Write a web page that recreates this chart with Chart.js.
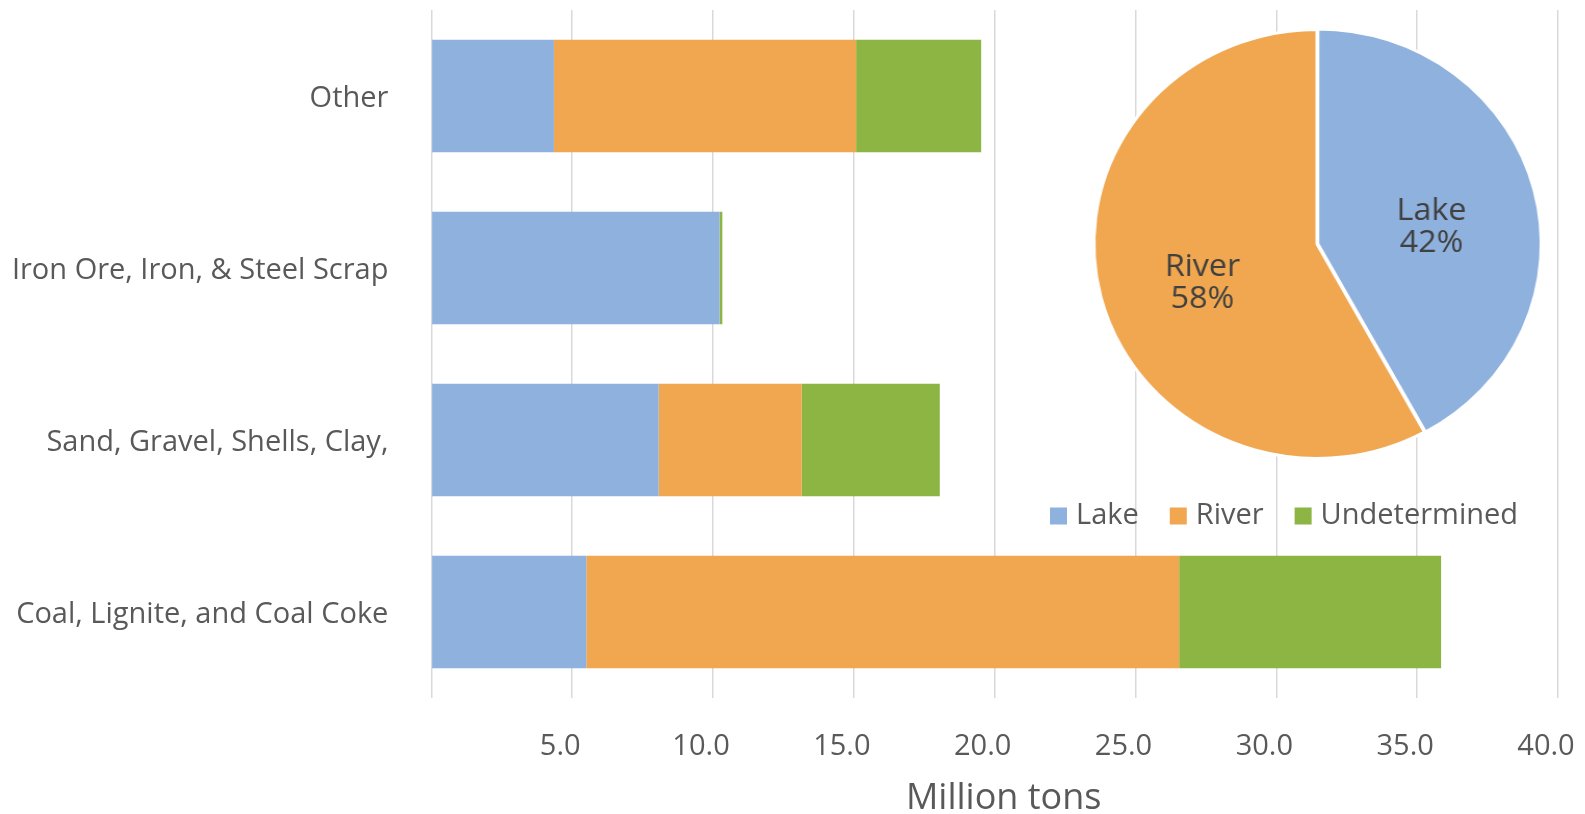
<!DOCTYPE html>
<html>
<head>
<meta charset="utf-8">
<script src="https://cdn.jsdelivr.net/npm/chart.js@4.4.1/dist/chart.umd.min.js"></script>
<style>
  html, body { margin: 0; padding: 0; background: #fff; overflow: hidden; }
  #wrap { position: relative; width: 1585px; height: 814px; }
  #bars { position: absolute; left: 0; top: 0; }
  #pieBox { position: absolute; left: 1076.5px; top: 4px; width: 480px; height: 480px;
            transform: scaleX(1.04); transform-origin: 240px 240px; }
</style>
</head>
<body>
<div id="wrap">
  <canvas id="bars" width="1585" height="814"></canvas>
  <div id="pieBox"><canvas id="pie" width="480" height="480"></canvas></div>
</div>
<script>
// Commodity groups, top to bottom
const categories = [
  'Other',
  'Iron Ore, Iron, & Steel Scrap',
  'Sand, Gravel, Shells, Clay,',
  'Coal, Lignite, and Coal Coke'
];

// Tonnage by waterway type (million tons)
const lakeTons         = [4.35, 10.23, 8.07, 5.50];
const riverTons        = [10.73, 0.00, 5.08, 21.05];
const undeterminedTons = [4.44, 0.10, 4.90, 9.30];

const seriesNames  = ['Lake', 'River', 'Undetermined'];
const seriesColors = ['#8EB1DD', '#F0A750', '#8DB543'];

// Value axis tick labels (0 is left blank)
const tickLabels = ['', '5.0', '10.0', '15.0', '20.0', '25.0', '30.0', '35.0', '40.0'];
const valueAxisTitle = 'Million tons';

// Share of total tonnage, Lake vs River (%)
const pieLabels = ['Lake', 'River'];
const pieShares = [42, 58];

const FONT = '"Open Sans", "Segoe UI", "Noto Sans", sans-serif';
const TEXT = '#595959';

Chart.defaults.font.family = FONT;
Chart.defaults.color = TEXT;

// Legend row drawn inside the plot area, under the pie
const legendInPlot = {
  id: 'legendInPlot',
  afterDraw(chart) {
    const ctx = chart.ctx;
    const box = 17, gap = 9, between = 31;
    let x = 1050;
    const y = 516;
    ctx.save();
    ctx.font = '29px ' + FONT;
    ctx.textBaseline = 'middle';
    ctx.textAlign = 'left';
    chart.data.datasets.forEach(ds => {
      ctx.fillStyle = ds.backgroundColor;
      ctx.fillRect(x, y - box / 2, box, box);
      x += box + gap;
      ctx.fillStyle = TEXT;
      ctx.fillText(ds.label, x, y);
      x += ctx.measureText(ds.label).width + between;
    });
    ctx.restore();
  }
};

// Value axis title, centred a little right of the plot centre
const valueTitle = {
  id: 'valueTitle',
  afterDraw(chart) {
    const ctx = chart.ctx;
    const s = chart.scales.x;
    ctx.save();
    ctx.font = '36px ' + FONT;
    ctx.fillStyle = TEXT;
    ctx.textAlign = 'center';
    ctx.textBaseline = 'middle';
    ctx.fillText(valueAxisTitle, (s.left + s.right) / 2 + 9, s.bottom - 15);
    ctx.restore();
  }
};

new Chart(document.getElementById('bars'), {
  type: 'bar',
  data: {
    labels: categories,
    datasets: [
      { label: seriesNames[0], data: lakeTons,         backgroundColor: seriesColors[0] },
      { label: seriesNames[1], data: riverTons,        backgroundColor: seriesColors[1] },
      { label: seriesNames[2], data: undeterminedTons, backgroundColor: seriesColors[2] }
    ]
  },
  options: {
    indexAxis: 'y',
    responsive: false,
    animation: false,
    devicePixelRatio: 1,
    layout: { padding: { left: 0, right: 27, top: 10, bottom: 0 } },
    datasets: { bar: { barPercentage: 0.654, categoryPercentage: 1, borderWidth: 0 } },
    plugins: { legend: { display: false }, tooltip: { enabled: false } },
    scales: {
      x: {
        stacked: true,
        min: 0, max: 40,
        grid: { color: '#D9D9D9', lineWidth: 1.5, drawTicks: false },
        border: { display: false },
        ticks: {
          stepSize: 5,
          padding: 31,
          labelOffset: -12,
          font: { size: 29 },
          color: TEXT,
          callback: (v, i) => tickLabels[i]
        },
        afterFit(scale) {
          scale.height = 116;
          scale.paddingLeft = 0;
          scale.paddingRight = 0;
        }
      },
      y: {
        stacked: true,
        grid: { display: false },
        border: { display: false },
        ticks: { padding: 35, labelOffset: 3, font: { size: 29 }, color: TEXT },
        afterFit(scale) {
          scale.width = 431.4;
          scale.paddingTop = 0;
          scale.paddingBottom = 0;
        }
      }
    }
  },
  plugins: [legendInPlot, valueTitle]
});

// Category name and percentage written inside each slice
const sliceLabels = {
  id: 'sliceLabels',
  afterDatasetsDraw(chart) {
    const ctx = chart.ctx;
    const meta = chart.getDatasetMeta(0);
    ctx.save();
    ctx.font = '31px ' + FONT;
    ctx.fillStyle = '#404040';
    ctx.textAlign = 'center';
    ctx.textBaseline = 'middle';
    meta.data.forEach((arc, i) => {
      const p = arc.getProps(['x', 'y', 'startAngle', 'endAngle', 'outerRadius'], true);
      const mid = (p.startAngle + p.endAngle) / 2;
      const d = p.outerRadius * 0.53;
      const cx = p.x + Math.cos(mid) * d;
      const cy = p.y + Math.sin(mid) * d + 11;
      ctx.fillText(chart.data.labels[i], cx, cy - 16);
      ctx.fillText(chart.data.datasets[0].data[i] + '%', cx, cy + 16);
    });
    ctx.restore();
  }
};

new Chart(document.getElementById('pie'), {
  type: 'pie',
  data: {
    labels: pieLabels,
    datasets: [{
      data: pieShares,
      backgroundColor: [seriesColors[0], seriesColors[1]],
      borderColor: '#FFFFFF',
      borderWidth: 3,
      offset: [3, 0]
    }]
  },
  options: {
    responsive: false,
    animation: false,
    devicePixelRatio: 1,
    radius: 214.5,
    layout: { padding: 0 },
    plugins: { legend: { display: false }, tooltip: { enabled: false } }
  },
  plugins: [sliceLabels]
});
</script>
</body>
</html>
